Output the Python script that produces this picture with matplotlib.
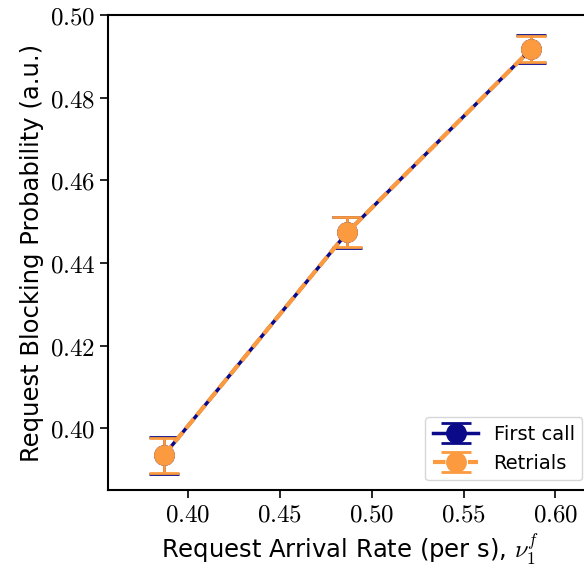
import matplotlib
matplotlib.use("Agg")
import matplotlib.pyplot as plt
from matplotlib.ticker import FuncFormatter

# Values
arrival_rate = [0.3867, 0.4867, 0.5867]
first_call = [0.3934, 0.4474, 0.4917]
first_call_err = [0.0044, 0.0038, 0.0034]
retrials = [0.3934, 0.4474, 0.4917]
retrials_err = [0.0042, 0.0036, 0.0032]

plt.rcParams["mathtext.fontset"] = "cm"

fig = plt.figure(figsize=(5.84, 5.74), dpi=100)
ax = fig.add_axes([0.185, 0.146, 0.829, 0.828])

ax.errorbar(arrival_rate, first_call, yerr=first_call_err, color="#0b0b8a",
            marker="o", markersize=14, capsize=11, capthick=2, elinewidth=2,
            linewidth=2.5, linestyle="-", label="First call")
ax.errorbar(arrival_rate, retrials, yerr=retrials_err, color="#fb9a3f",
            marker="o", markersize=14, capsize=11, capthick=2, elinewidth=2,
            linewidth=3, linestyle=(0, (3, 1.2)), label="Retrials")

ax.set_xlim(0.3564, 0.62)
ax.set_ylim(0.385, 0.5)
ax.set_xticks([0.40, 0.45, 0.50, 0.55, 0.60])
ax.set_yticks([0.40, 0.42, 0.44, 0.46, 0.48, 0.50])
ax.xaxis.set_major_formatter(FuncFormatter(lambda v, p: rf"${v:.2f}$"))
ax.yaxis.set_major_formatter(FuncFormatter(lambda v, p: rf"${v:.2f}$"))
ax.tick_params(labelsize=18, width=1.2, length=5.5)
for s in ax.spines.values():
    s.set_linewidth(1.5)

ax.set_xlabel(r"Request Arrival Rate (per s), $\nu_1^f$", fontsize=17.5)
ax.set_ylabel("Request Blocking Probability (a.u.)", fontsize=17.5)
ax.legend(loc="lower right", fontsize=14, handlelength=2.3)

fig.savefig("out.png", dpi=100)
